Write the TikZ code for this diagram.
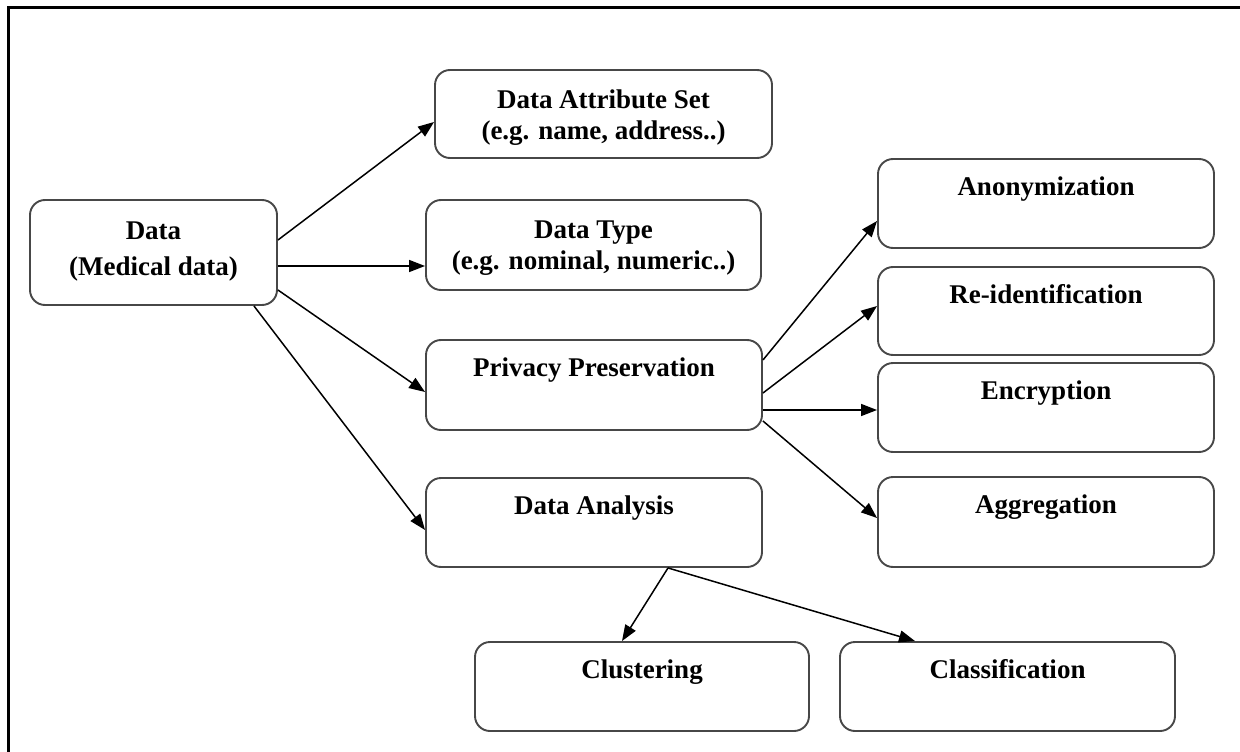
\documentclass[tikz,border=0pt]{standalone}
\usepackage{fontspec}
\setmainfont{Liberation Serif}
\usetikzlibrary{arrows.meta}
\tikzset{
  box/.style={draw=black!72, line width=1.9pt, rounded corners=15pt, fill=white, inner sep=0pt},
  lbl/.style={font=\fontsize{27}{31}\selectfont\bfseries, align=center, inner sep=0pt},
  lblone/.style={lbl, text height=18pt, text depth=6pt},
  arr/.style={draw=black, line width=1.5pt, -{Triangle[length=16pt,width=12pt]}},
  frame/.style={draw=black, line width=3pt}
}
\begin{document}
\begin{tikzpicture}[x=1pt,y=-1pt]
\useasboundingbox (0,0) rectangle (1240,752);
% outer frame (left and top edges visible)
\coordinate (fa) at (8,752);
\coordinate (fb) at (8,8);
\coordinate (fc) at (1240,8);
\draw[frame] (fa) -- (fb) -- (fc);

% boxes
\node[box, minimum width=247pt, minimum height=105pt] (data) at (153.5,252.5) {};
\node[box, minimum width=337pt, minimum height=88pt] (das) at (603.5,114) {};
\node[box, minimum width=335pt, minimum height=90pt] (dt) at (593.5,245) {};
\node[box, minimum width=336pt, minimum height=90pt] (pp) at (594,385) {};
\node[box, minimum width=336pt, minimum height=89pt] (da) at (594,522.5) {};
\node[box, minimum width=336pt, minimum height=89pt] (anon) at (1046,203.5) {};
\node[box, minimum width=336pt, minimum height=88pt] (reid) at (1046,311) {};
\node[box, minimum width=336pt, minimum height=89pt] (enc) at (1046,407.5) {};
\node[box, minimum width=336pt, minimum height=90pt] (agg) at (1046,522) {};
\node[box, minimum width=334pt, minimum height=89pt] (clust) at (642,686.5) {};
\node[box, minimum width=335pt, minimum height=89pt] (class) at (1007.5,686.5) {};

% texts
\node[lbl, font=\fontsize{27}{36}\selectfont\bfseries] (tdata) at (153.5,252) {Data\\(Medical data)};
\node[lbl] (tdas) at (603.5,118) {Data Attribute Set\\(e.g. name, address..)};
\node[lbl] (tdt) at (593.5,248) {Data Type\\(e.g. nominal, numeric..)};
\node[lblone] (tpp) at ([yshift=-31pt]pp.north) {Privacy Preservation};
\node[lblone] (tda) at ([yshift=-31pt]da.north) {Data Analysis};
\node[lblone] (tanon) at ([yshift=-31pt]anon.north) {Anonymization};
\node[lblone] (treid) at ([yshift=-31pt]reid.north) {Re-identification};
\node[lblone] (tenc) at ([yshift=-31pt]enc.north) {Encryption};
\node[lblone] (tagg) at ([yshift=-31pt]agg.north) {Aggregation};
\node[lblone] (tclust) at ([yshift=-31pt]clust.north) {Clustering};
\node[lblone] (tclass) at ([yshift=-31pt]class.north) {Classification};

% connectors from Data
\draw[arr] ([yshift=12.5pt]data.east) -- ([yshift=-8pt]das.west);
\draw[arr] ([yshift=-13.5pt]data.east) coordinate (s1) -- (s1 -| dt.west);
\draw[arr] ([yshift=-37.5pt]data.east) -- ([yshift=-7pt]pp.west);
\draw[arr] ([xshift=-24pt]data.south east) -- ([yshift=-7.5pt]da.west);

% connectors from Privacy Preservation
\draw[arr] ([yshift=25pt]pp.east) -- ([yshift=-17.5pt]anon.west);
\draw[arr] ([yshift=-8pt]pp.east) -- ([yshift=5pt]reid.west);
\draw[arr] ([yshift=-25pt]pp.east) coordinate (s2) -- (s2 -| enc.west);
\draw[arr] ([yshift=-36pt]pp.east) -- ([yshift=4pt]agg.west);

% connectors from Data Analysis
\draw[arr] ([xshift=74pt]da.south) -- ([xshift=-20pt]clust.north);
\draw[arr] ([xshift=74pt]da.south) -- ([xshift=-92.5pt]class.north);
\end{tikzpicture}
\end{document}
